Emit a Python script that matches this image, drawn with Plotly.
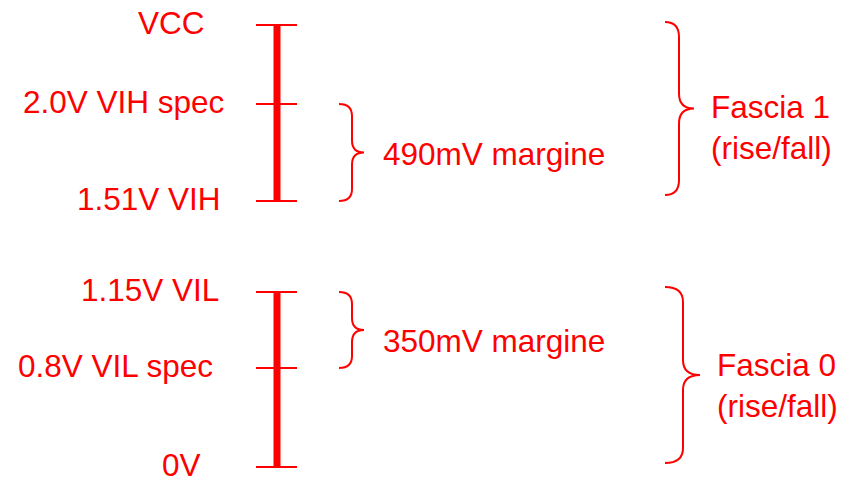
import plotly.graph_objects as go

# ---- data ----
level_labels = ["VCC", "2.0V VIH spec", "1.51V VIH", "1.15V VIL", "0.8V VIL spec", "0V"]
level_pos = [25, 104, 201, 292, 368, 467]          # diagram vertical positions
groups = [(0, 2), (3, 5)]                           # bar spans (level indices)
margin_labels = ["490mV margine", "350mV margine"]
margin_spans = [(1, 2), (3, 4)]
band_labels = ["Fascia 1<br>(rise/fall)", "Fascia 0<br>(rise/fall)"]

# ---- layout / style ----
RED = "#ff0000"
FONT = dict(family="Liberation Sans, Arial, sans-serif", size=31.5, color=RED)
label_right = [207, 226, 223, 221, 215, 203]
tick_x = (256, 297)
bar_x = 277
margin_text_dy = [1, 10.5]

fig = go.Figure()

# ticks
for y in level_pos:
    fig.add_trace(go.Scatter(x=list(tick_x), y=[y, y], mode="lines",
                             line=dict(color=RED, width=2), hoverinfo="skip"))
# thick bars
for a, b in groups:
    fig.add_trace(go.Scatter(x=[bar_x, bar_x], y=[level_pos[a], level_pos[b]], mode="lines",
                             line=dict(color=RED, width=7), hoverinfo="skip"))

# level labels
for lab, y, xr in zip(level_labels, level_pos, label_right):
    fig.add_annotation(x=xr, y=y - 2, text=lab, showarrow=False, xanchor="right",
                       yanchor="middle", font=FONT)


def brace(x0, xm, x1, ytop, ybot, r):
    ym = (ytop + ybot) / 2
    return (f"M {x0},{ytop} Q {xm},{ytop} {xm},{ytop + r} L {xm},{ym - r} "
            f"Q {xm},{ym} {x1},{ym} Q {xm},{ym} {xm},{ym + r} L {xm},{ybot - r} "
            f"Q {xm},{ybot} {x0},{ybot}")


# margin braces
for lab, (a, b), dy in zip(margin_labels, margin_spans, margin_text_dy):
    yt, yb = level_pos[a], level_pos[b]
    fig.add_shape(type="path", path=brace(339, 352, 364, yt, yb, 12),
                  xref="x", yref="y", line=dict(color=RED, width=2))
    fig.add_annotation(x=381, y=(yt + yb) / 2 + dy, text=lab, showarrow=False,
                       xanchor="left", yanchor="middle", font=FONT)

# band braces
band_geom = [(665, 679, 694, 22, 195, 709, 19), (665, 683, 700, 287, 463, 715, 10)]
for lab, (x0, xm, x1, yt, yb, tx, dy) in zip(band_labels, band_geom):
    fig.add_shape(type="path", path=brace(x0, xm, x1, yt, yb, 15),
                  xref="x", yref="y", line=dict(color=RED, width=2))
    fig.add_annotation(x=tx, y=(yt + yb) / 2 + dy, text=lab, showarrow=False,
                       xanchor="left", yanchor="middle", align="left", font=FONT)

fig.update_layout(
    width=842, height=481, autosize=False,
    margin=dict(l=0, r=0, t=0, b=0),
    paper_bgcolor="white", plot_bgcolor="white",
    showlegend=False,
    xaxis=dict(range=[0, 842], visible=False, fixedrange=True),
    yaxis=dict(range=[481, 0], visible=False, fixedrange=True),
)

fig.write_html("out.html", config={"displayModeBar": False},
               post_script="document.body.style.margin='0';document.body.style.overflow='hidden';")
